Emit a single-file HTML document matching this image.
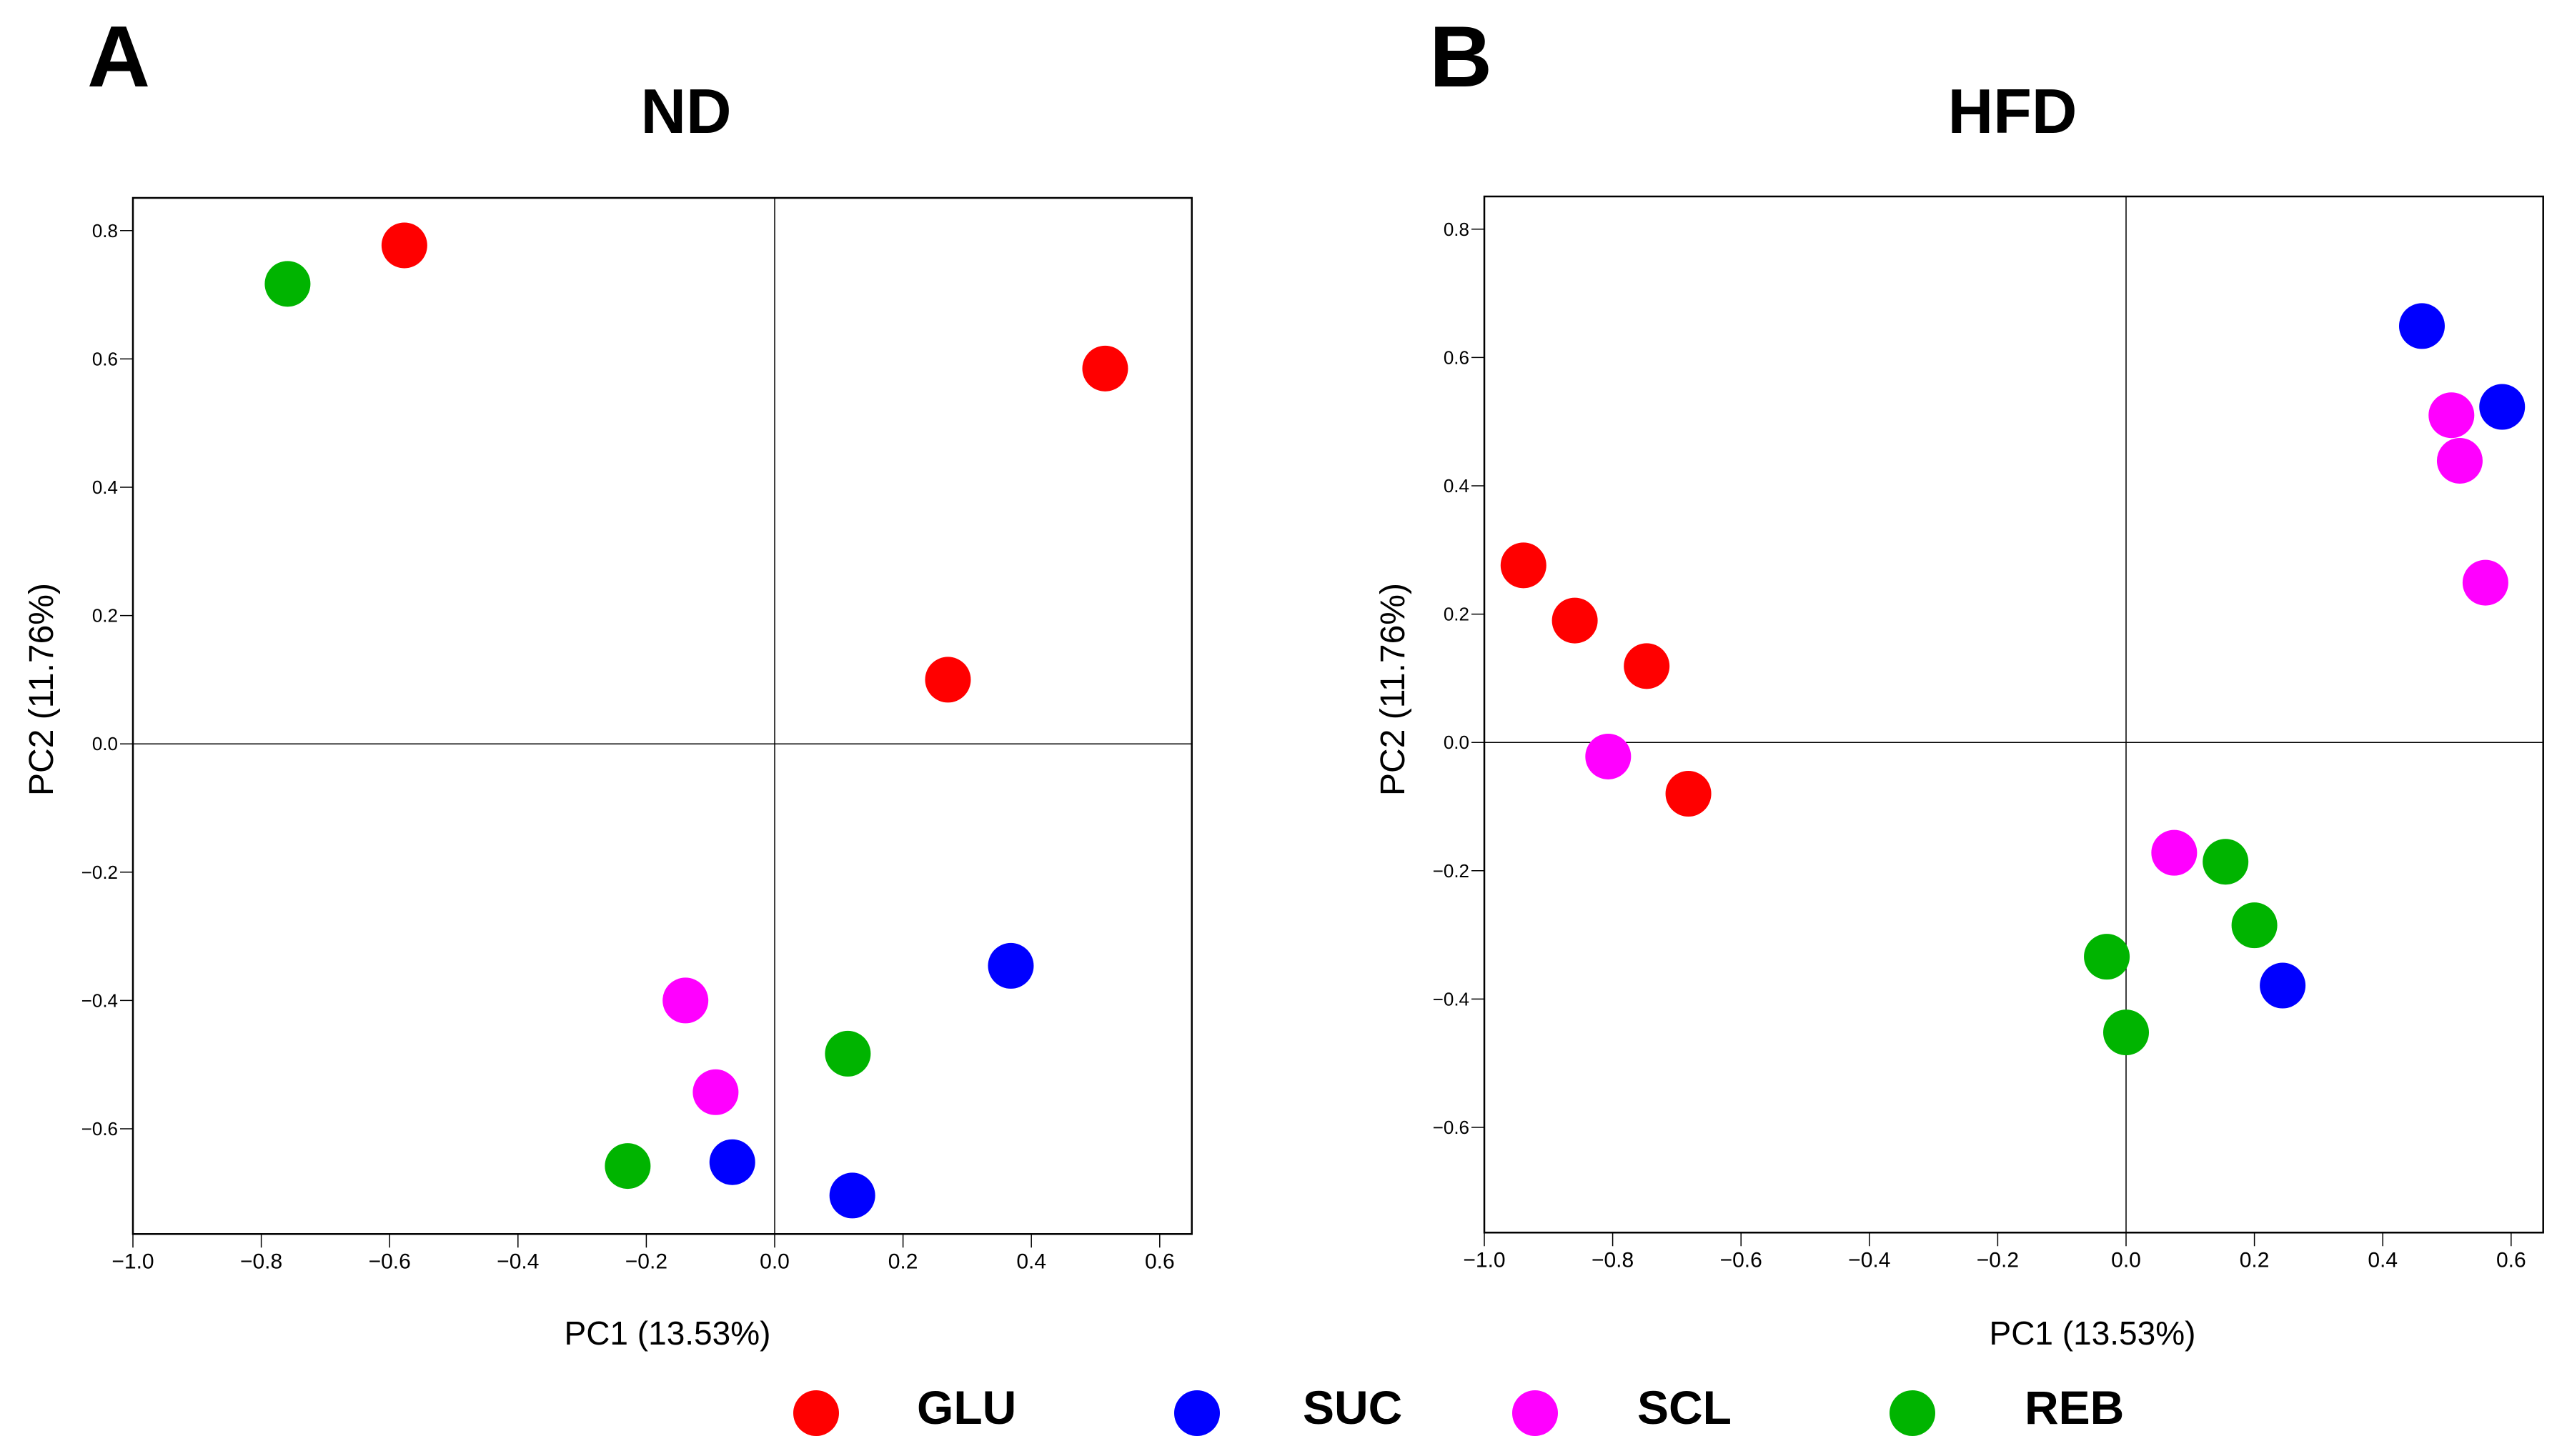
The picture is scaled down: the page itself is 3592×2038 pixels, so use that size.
<!DOCTYPE html>
<html><head><meta charset="utf-8"><style>
html,body{margin:0;padding:0;background:#fff;}
svg{display:block;font-family:"Liberation Sans",Arial,sans-serif;}
</style></head><body>
<svg id="fig" width="3592" height="2038" viewBox="0 0 3592 2038" xmlns="http://www.w3.org/2000/svg">
<rect width="3592" height="2038" fill="#fff"/>
<text x="122" y="121" font-size="122" font-weight="bold">A</text>
<text x="2000" y="121" font-size="122" font-weight="bold">B</text>
<text x="960" y="186" font-size="88" font-weight="bold" text-anchor="middle">ND</text>
<text x="2816" y="186" font-size="88" font-weight="bold" text-anchor="middle">HFD</text>
<g id="panelA"></g>
<g id="panelB"></g>
<g id="legend"></g>
</svg>
<script>
const groups = ["GLU","SUC","SCL","REB"];
const groupColors = ["#ff0000","#0000ff","#ff00ff","#00b400"];
const xTicks = [-1.0,-0.8,-0.6,-0.4,-0.2,0.0,0.2,0.4,0.6];
const yTicks = [-0.6,-0.4,-0.2,0.0,0.2,0.4,0.6,0.8];
// Panel A (ND)
const ndGroup = ["REB","GLU","GLU","GLU","SUC","SCL","REB","SCL","REB","SUC","SUC"];
const ndPC1 = [-0.759,-0.577,0.515,0.270,0.368,-0.139,0.114,-0.092,-0.229,-0.066,0.121];
const ndPC2 = [0.717,0.777,0.585,0.100,-0.346,-0.400,-0.483,-0.543,-0.658,-0.652,-0.704];
// Panel B (HFD)
const hfdGroup = ["SUC","SUC","SCL","SCL","SCL","GLU","GLU","GLU","SCL","GLU","SCL","REB","REB","SUC","REB","REB"];
const hfdPC1 = [0.461,0.586,0.507,0.520,0.560,-0.939,-0.859,-0.747,-0.807,-0.682,0.075,0.155,0.200,0.244,-0.030,0.000];
const hfdPC2 = [0.649,0.523,0.510,0.439,0.249,0.276,0.190,0.119,-0.022,-0.080,-0.172,-0.186,-0.285,-0.379,-0.334,-0.452];

const NS="http://www.w3.org/2000/svg";
function mk(tag, attrs, parent){const e=document.createElementNS(NS,tag);for(const k in attrs)e.setAttribute(k,attrs[k]);parent.appendChild(e);return e;}
const XMIN=-1.0,XMAX=0.65,YMIN=-0.764,YMAX=0.851,SCALE=898;
function fmt(v){const s=Math.abs(v).toFixed(1);return (v<-1e-9?"\u2212":"")+s;}

function drawPanel(g, left, top, cats, xs, ys, pfx, titleX){
  const sx=v=>left+(v-XMIN)*SCALE;
  const sy=v=>top+(YMAX-v)*SCALE;
  const right=sx(XMAX), bottom=sy(YMIN);
  const frame=mk("rect",{x:left,y:top,width:right-left,height:bottom-top,fill:"none",stroke:"#000","stroke-width":2.5},g);
  
  
  const vz=mk("line",{x1:sx(0),x2:sx(0),y1:top,y2:bottom,stroke:"#000","stroke-width":1.5},g);
  
  
  const hz=mk("line",{x1:left,x2:right,y1:sy(0),y2:sy(0),stroke:"#000","stroke-width":1.5},g);
  
  
  xTicks.forEach(t=>{
    const tk=mk("line",{x1:sx(t),x2:sx(t),y1:bottom,y2:bottom+19,stroke:"#000","stroke-width":1.5},g);
    
    
    const tl=mk("text",{x:sx(t),y:bottom+48,"font-size":30,"text-anchor":"middle"},g);
    tl.textContent=fmt(t);
    
    
  });
  yTicks.forEach(t=>{
    const tk=mk("line",{x1:left-18,x2:left,y1:sy(t),y2:sy(t),stroke:"#000","stroke-width":1.5},g);
    
    
    const tl=mk("text",{x:left-21,y:sy(t)+9,"font-size":26,"text-anchor":"end"},g);
    tl.textContent=fmt(t);
    
    
  });
  const xt=mk("text",{x:titleX,y:1882,"font-size":46,"text-anchor":"middle"},g);
  xt.textContent="PC1 (13.53%)";
  
  
  const yx=left-112, yy=965;
  const yt=mk("text",{x:yx,y:yy,"font-size":48,"text-anchor":"middle",transform:`rotate(-90 ${yx} ${yy})`},g);
  yt.textContent="PC2 (11.76%)";
  
  
  cats.forEach((c,i)=>{
    const p=mk("circle",{cx:sx(xs[i]),cy:sy(ys[i]),r:32,fill:groupColors[groups.indexOf(c)]},g);
    
    
  });
}
drawPanel(document.getElementById("panelA"),186,277,ndGroup,ndPC1,ndPC2,"a",934);
drawPanel(document.getElementById("panelB"),2077,275,hfdGroup,hfdPC1,hfdPC2,"b",2928);

const lg=document.getElementById("legend");
const legDotX=[1142,1675,2148,2676], legTextX=[1283,1823,2291,2833];
groups.forEach((gname,i)=>{
  const c=mk("circle",{cx:legDotX[i],cy:1978,r:32,fill:groupColors[i]},lg);
  
  
  const t=mk("text",{x:legTextX[i],y:1993,"font-size":66,"font-weight":"bold"},lg);
  t.textContent=gname;
  
  
});
</script>
</body></html>
